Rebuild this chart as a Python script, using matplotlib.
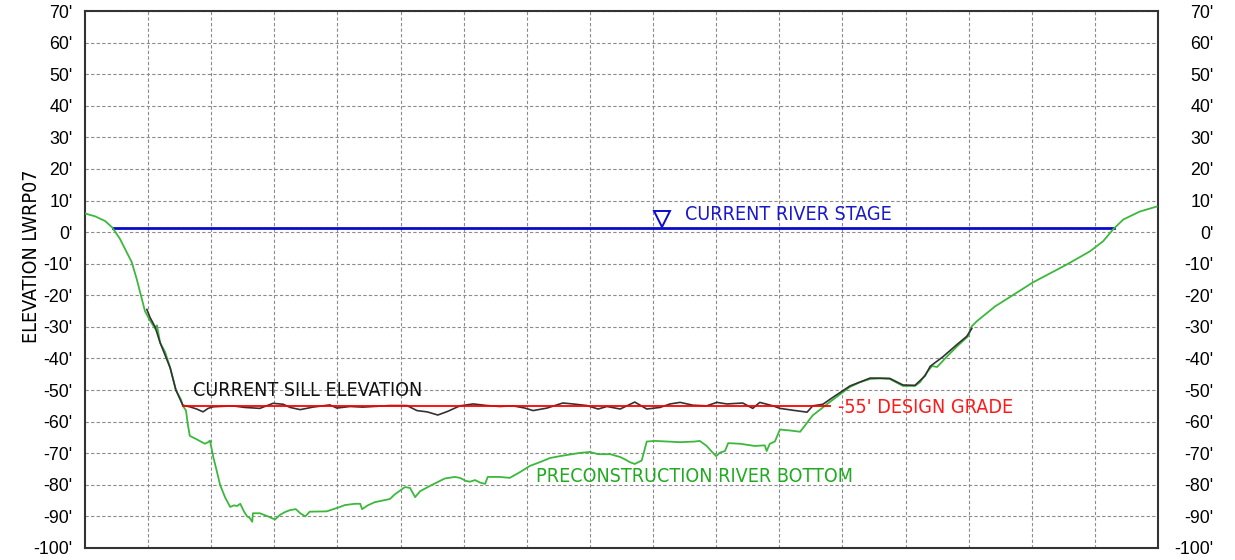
import matplotlib
matplotlib.use("Agg")
import matplotlib.pyplot as plt
from matplotlib import font_manager
import numpy as np

plt.rcParams['font.family'] = ['Liberation Sans', 'DejaVu Sans']

# labels in the drawing use a narrow face; pick what is installed
fonts = {(f.name, f.stretch) for f in font_manager.fontManager.ttflist}
names = {n for n, _ in fonts}
if 'Liberation Sans Narrow' in names:
    narrow = dict(family=['Liberation Sans Narrow', 'DejaVu Sans'], fontsize=15.2)
elif any(n == 'DejaVu Sans' and s == 'condensed' for n, s in fonts):
    narrow = dict(family=['DejaVu Sans'], fontstretch='condensed', fontsize=14.1)
else:
    narrow = dict(family=['Liberation Sans', 'DejaVu Sans'], fontsize=12.5)

# PRECONSTRUCTION RIVER BOTTOM (station, elevation ft)
bottom_x = [0, 16, 32, 43, 55, 74, 82, 95, 103, 111,
            114, 119, 127, 135, 144, 152, 155, 160, 163, 166,
            176, 190, 195, 198, 203, 208, 214, 222, 230, 236,
            241, 246, 252, 257, 261, 265, 266, 277, 290, 301,
            309, 317, 325, 334, 341, 349, 356, 383, 404, 412,
            428, 436, 439, 448, 459, 483, 491, 507, 515, 523,
            531, 547, 570, 586, 594, 604, 610, 618, 626, 634,
            638, 657, 673, 689, 705, 721, 737, 753, 784, 800,
            813, 832, 848, 856, 863, 871, 882, 890, 903, 943,
            966, 974, 985, 993, 1000, 1006, 1014, 1019, 1038, 1061,
            1077, 1080, 1085, 1093, 1101, 1117, 1133, 1153, 1180, 1212,
            1228, 1244, 1260, 1275, 1296, 1315, 1323, 1334, 1342, 1350,
            1366, 1382, 1399, 1405, 1413, 1442, 1502, 1556, 1592, 1613,
            1629, 1645, 1671, 1698]
bottom_y = [5.9, 5.0, 3.5, 1.5, -2, -9.5, -14.9, -25, -28, -30.5,
            -29.5, -35, -38, -43, -50, -53, -55, -56.5, -61, -64.5,
            -65.5, -67, -66.5, -66, -71, -75, -80, -84, -87, -86.5,
            -86.7, -86, -88.5, -90, -90.5, -91.7, -89, -89, -90, -91,
            -89.5, -88.6, -88, -87.7, -89, -90, -88.5, -88.4, -87, -86.4,
            -86, -86, -87.7, -86.5, -85.5, -84.5, -83, -80.7, -81, -83.9,
            -82, -80.3, -78, -77.5, -77.8, -78.8, -79, -78.5, -79.3, -79.7,
            -77.5, -77.5, -77.8, -76, -74, -72.8, -71.5, -70.9, -69.9, -69.6,
            -70.3, -70.3, -71.2, -72, -72.8, -73.4, -72.3, -66.3, -66.1, -66.5,
            -66.3, -66.1, -67.7, -69.5, -70.9, -69.8, -69.3, -66.8, -67, -67.7,
            -67.5, -69.3, -67, -66.3, -62.5, -62.8, -63.2, -58, -53.8, -49,
            -47.5, -46.5, -46.3, -46.5, -48.7, -48.7, -47.5, -44.3, -42.4, -42.7,
            -39.3, -36.1, -33, -29.8, -28.2, -23.5, -15.9, -10.2, -6.1, -2.9,
            0.9, 4, 6.5, 8.1]

# CURRENT SILL ELEVATION
sill_x = [98, 103, 111, 119, 135, 144, 152, 155, 166, 177,
          187, 195, 203, 234, 253, 277, 298, 314, 325, 341,
          361, 388, 399, 420, 440, 483, 510, 526, 542, 559,
          574, 594, 615, 637, 657, 678, 697, 710, 732, 757,
          773, 795, 813, 827, 848, 871, 890, 911, 927, 943,
          963, 985, 1001, 1017, 1042, 1058, 1069, 1090, 1101, 1122,
          1144, 1153, 1169, 1185, 1212, 1244, 1275, 1296, 1315, 1331,
          1339, 1359, 1382, 1397, 1405]
sill_y = [-24.5, -27, -30, -35, -43, -50, -53.5, -54.8, -55.3, -56,
          -56.9, -55.8, -55.3, -55, -55.5, -55.8, -54.2, -54.5, -55.5, -56.2,
          -55.4, -54.7, -55.7, -55.2, -55.4, -54.9, -54.9, -56.5, -56.9, -57.9,
          -56.8, -55, -54.4, -54.9, -55.2, -55, -55.7, -56.5, -55.7, -54.1,
          -54.4, -54.9, -56, -55.2, -56, -53.8, -56, -55.5, -54.4, -53.9,
          -54.8, -55, -53.9, -54.4, -54.1, -55.8, -53.9, -55, -55.8, -56.4,
          -57, -55, -54.5, -52.3, -48.7, -46.2, -46.3, -48.4, -48.5, -45.5,
          -42.5, -39.5, -35.5, -33, -30.5]

# design grade and river stage
grade_x = [155, 1180]
grade_y = -55
stage_x = [44, 1631]
stage_y = 1.2
stage_marker_x = 914
stage_marker_y = 4.0

yticks = list(range(-100, 80, 10))
ylabels = [f"{v}'" for v in yticks]

fig = plt.figure(figsize=(12.35, 5.6), dpi=100)
ax = fig.add_axes([85 / 1235, 1 - 548 / 560, 1073 / 1235, 537 / 560])

ax.set_xlim(0, 1700)
ax.set_ylim(-100, 70)
ax.set_xticks(np.arange(100, 1700, 100))
ax.set_xticklabels([])
ax.set_yticks(yticks, ylabels, fontsize=12.8)
ax.tick_params(length=0, pad=9)
ax.grid(True, color='#8c8c8c', linestyle=(0, (3, 2)), linewidth=0.8)
for s in ax.spines.values():
    s.set_color('#333333')
    s.set_linewidth(1.5)

ax2 = ax.twinx()
ax2.set_ylim(-100, 70)
ax2.set_yticks(yticks, ylabels, fontsize=12.8, ha='right')
ax2.tick_params(length=0, pad=40)
for s in ax2.spines.values():
    s.set_visible(False)

ax.set_ylabel('ELEVATION LWRP07', **narrow)
ax.yaxis.set_label_coords(-0.041, 0.5425)

ax.plot(stage_x, [stage_y, stage_y], color='#0a0acc', lw=2, zorder=3)
ax.plot(bottom_x, bottom_y, color='#3cb83c', lw=1.3, zorder=4)
ax.plot(sill_x, sill_y, color='#333333', lw=1.2, zorder=5)
ax.plot(grade_x, [grade_y, grade_y], color='#ff0000', lw=1.3, zorder=6)
ax.plot([stage_marker_x], [stage_marker_y], marker='v', markersize=11,
        markerfacecolor='white', markeredgecolor='#0a0acc', mew=1.4, zorder=7)

ax.text(951, 5.6, 'CURRENT RIVER STAGE', color='#1a1acc', va='center', **narrow)
ax.text(171, -50, 'CURRENT SILL ELEVATION', color='#111111', va='center', **narrow)
ax.text(1193, -55.4, "-55' DESIGN GRADE", color='#ff1a1a', va='center', **narrow)
ax.text(715, -77.5, 'PRECONSTRUCTION RIVER BOTTOM', color='#22aa22', va='center', **narrow)

fig.savefig('out.png', dpi=100)
